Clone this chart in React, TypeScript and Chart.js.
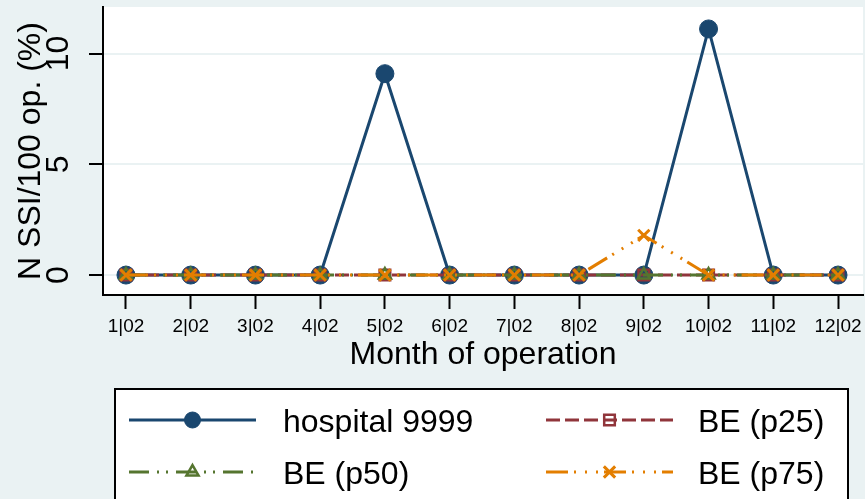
import React, { useEffect, useRef } from 'react';
import { Chart, registerables } from 'chart.js';

Chart.register(...registerables);

// ---- data ----
const monthLabels = ['1|02', '2|02', '3|02', '4|02', '5|02', '6|02', '7|02', '8|02', '9|02', '10|02', '11|02', '12|02'];
const monthIndex = [1, 2, 3, 4, 5, 6, 7, 8, 9, 10, 11, 12];
const hospital9999 = [0, 0, 0, 0, 9.09, 0, 0, 0, 0, 11.11, 0, 0];
const beP25 = [0, 0, 0, 0, 0, 0, 0, 0, 0, 0, 0, 0];
const beP50 = [0, 0, 0, 0, 0, 0, 0, 0, 0, 0, 0, 0];
const beP75 = [0, 0, 0, 0, 0, 0, 0, 0, 1.79, 0, 0, 0];
const yTickValues = [0, 5, 10];
const seriesNames = ['hospital 9999', 'BE (p25)', 'BE (p50)', 'BE (p75)'];
const yAxisTitle = 'N SSI/100 op. (%)';
const xAxisTitle = 'Month of operation';

// ---- styles ----
const FONT = '"Liberation Sans", Arial, Helvetica, sans-serif';
const BG = '#EAF2F3';
const NAVY = '#1A476F';
const MAROON = '#90353B';
const GREEN = '#55752F';
const ORANGE = '#E37E00';

type Style = {
  color: string;
  dash: number[];
  point: string;
  radius: number;
  fill: string;
  pointBorder: number;
};

const styles: Style[] = [
  { color: NAVY, dash: [], point: 'circle', radius: 9, fill: NAVY, pointBorder: 1 },
  { color: MAROON, dash: [14, 5], point: 'rect', radius: 7.5, fill: 'rgba(0,0,0,0)', pointBorder: 2.5 },
  { color: GREEN, dash: [20, 8, 2, 7, 2, 8], point: 'triangle', radius: 7, fill: 'rgba(0,0,0,0)', pointBorder: 2.5 },
  { color: ORANGE, dash: [22, 6, 2, 9, 2, 9, 2, 6], point: 'crossRot', radius: 8, fill: 'rgba(0,0,0,0)', pointBorder: 3 },
];

const seriesValues = [hospital9999, beP25, beP50, beP75];

function drawMarker(ctx: CanvasRenderingContext2D, s: Style, x: number, y: number, r: number) {
  ctx.save();
  ctx.setLineDash([]);
  ctx.lineWidth = s.pointBorder;
  ctx.strokeStyle = s.color;
  ctx.fillStyle = s.fill;
  ctx.beginPath();
  if (s.point === 'circle') {
    ctx.arc(x, y, r, 0, Math.PI * 2);
    ctx.closePath();
    ctx.fill();
    ctx.stroke();
  } else if (s.point === 'rect') {
    const h = Math.SQRT1_2 * r;
    ctx.rect(x - h, y - h, 2 * h, 2 * h);
    ctx.fill();
    ctx.stroke();
  } else if (s.point === 'triangle') {
    let rad = 0;
    ctx.moveTo(x + Math.sin(rad) * r, y - Math.cos(rad) * r);
    rad += (2 * Math.PI) / 3;
    ctx.lineTo(x + Math.sin(rad) * r, y - Math.cos(rad) * r);
    rad += (2 * Math.PI) / 3;
    ctx.lineTo(x + Math.sin(rad) * r, y - Math.cos(rad) * r);
    ctx.closePath();
    ctx.fill();
    ctx.stroke();
  } else if (s.point === 'crossRot') {
    const o = Math.cos(Math.PI / 4) * r;
    ctx.moveTo(x - o, y - o);
    ctx.lineTo(x + o, y + o);
    ctx.moveTo(x + o, y - o);
    ctx.lineTo(x - o, y + o);
    ctx.stroke();
  }
  ctx.restore();
}

const bgPlugin = {
  id: 'stataBg',
  beforeDraw(chart: any) {
    const { ctx, chartArea } = chart;
    ctx.save();
    ctx.fillStyle = BG;
    ctx.fillRect(0, 0, chart.width, chart.height);
    ctx.fillStyle = '#FFFFFF';
    ctx.fillRect(chartArea.left, chartArea.top, chartArea.right - chartArea.left, chartArea.bottom - chartArea.top);
    ctx.restore();
  },
};

const decorPlugin = {
  id: 'stataDecor',
  afterDraw(chart: any) {
    const { ctx, chartArea } = chart;
    const yScale = chart.scales.y;
    ctx.save();
    ctx.fillStyle = '#000';
    // y tick labels (rotated)
    ctx.font = `32px ${FONT}`;
    ctx.textAlign = 'center';
    ctx.textBaseline = 'middle';
    yTickValues.forEach((v) => {
      const py = yScale.getPixelForValue(v);
      ctx.save();
      ctx.translate(59, py);
      ctx.rotate(-Math.PI / 2);
      ctx.fillText(String(v), 0, 0);
      ctx.restore();
    });
    // y axis title
    ctx.save();
    ctx.translate(31, (chartArea.top + chartArea.bottom) / 2);
    ctx.rotate(-Math.PI / 2);
    ctx.fillText(yAxisTitle, 0, 0);
    ctx.restore();
    // x axis title
    ctx.textBaseline = 'alphabetic';
    ctx.fillText(xAxisTitle, (chartArea.left + chartArea.right) / 2, 364);

    // legend box
    const bx = 115, by = 389, bw = 733, bh = 130;
    ctx.fillStyle = '#FFFFFF';
    ctx.fillRect(bx, by, bw, bh);
    ctx.strokeStyle = '#000';
    ctx.lineWidth = 2;
    ctx.strokeRect(bx, by, bw, bh);

    const cols = [
      { x0: 129, x1: 256, tx: 283 },
      { x0: 546, x1: 673, tx: 698 },
    ];
    const rows = [420, 472];
    const order = [0, 1, 2, 3];
    order.forEach((si, k) => {
      const c = cols[k % 2];
      const ry = rows[Math.floor(k / 2)];
      const s = styles[si];
      ctx.save();
      ctx.strokeStyle = s.color;
      ctx.lineWidth = 3;
      ctx.setLineDash(s.dash);
      ctx.beginPath();
      ctx.moveTo(c.x0, ry);
      ctx.lineTo(c.x1, ry);
      ctx.stroke();
      ctx.restore();
      drawMarker(ctx, s, (c.x0 + c.x1) / 2, ry, si === 0 ? 8 : s.radius);
      ctx.fillStyle = '#000';
      ctx.font = `32px ${FONT}`;
      ctx.textAlign = 'left';
      ctx.textBaseline = 'alphabetic';
      ctx.fillText(seriesNames[si], c.tx, ry + 12);
    });
    ctx.restore();
  },
};

export default function App() {
  const ref = useRef<HTMLCanvasElement>(null);

  useEffect(() => {
    const canvas = ref.current;
    if (!canvas) return;
    const datasets = seriesValues.map((vals, i) => {
      const s = styles[i];
      return {
        label: seriesNames[i],
        data: monthIndex.map((m, j) => ({ x: m, y: vals[j] })),
        borderColor: s.color,
        borderWidth: 3,
        borderDash: s.dash,
        backgroundColor: s.fill,
        fill: false,
        tension: 0,
        pointStyle: s.point,
        pointRadius: s.radius,
        pointBackgroundColor: s.fill,
        pointBorderColor: s.color,
        pointBorderWidth: s.pointBorder,
        order: 4 - i,
      };
    });

    const chart = new Chart(canvas, {
      type: 'line',
      data: { datasets } as any,
      options: {
        animation: false,
        responsive: false,
        devicePixelRatio: 1,
        events: [],
        layout: { autoPadding: false, padding: { top: 7, right: 2, left: 0, bottom: 0 } },
        plugins: { legend: { display: false }, tooltip: { enabled: false } },
        scales: {
          x: {
            type: 'linear',
            min: 0.645,
            max: 12.386,
            afterBuildTicks: (s: any) => {
              s.ticks = monthIndex.map((v) => ({ value: v }));
            },
            afterFit: (s: any) => {
              s.height = 204;
              s.paddingLeft = 0;
              s.paddingRight = 0;
            },
            ticks: {
              autoSkip: false,
              maxRotation: 0,
              minRotation: 0,
              padding: 6,
              color: '#000',
              font: { family: FONT, size: 19 },
              callback: (v: any) => {
                const idx = monthIndex.indexOf(Number(v));
                return idx >= 0 ? monthLabels[idx] : '';
              },
            },
            grid: {
              drawOnChartArea: false,
              drawTicks: true,
              tickLength: 14,
              tickColor: '#000',
              tickWidth: 2,
            },
            border: { display: true, color: '#000', width: 2 },
          },
          y: {
            type: 'linear',
            min: -0.9,
            max: 12.1,
            afterBuildTicks: (s: any) => {
              s.ticks = yTickValues.map((v) => ({ value: v }));
            },
            afterFit: (s: any) => {
              s.width = 103;
              s.paddingTop = 0;
              s.paddingBottom = 0;
            },
            ticks: { display: false },
            grid: {
              color: BG,
              lineWidth: 2,
              drawTicks: true,
              tickLength: 14,
              tickColor: '#000',
              tickWidth: 2,
            },
            border: { display: true, color: '#000', width: 2 },
          },
        },
      } as any,
      plugins: [bgPlugin, decorPlugin],
    });
    return () => chart.destroy();
  }, []);

  return (
    <div style={{ position: 'absolute', left: 0, top: 0, width: 865, height: 499, overflow: 'hidden' }}>
      <canvas ref={ref} width={865} height={499} style={{ display: 'block', width: 865, height: 499 }} />
    </div>
  );
}
